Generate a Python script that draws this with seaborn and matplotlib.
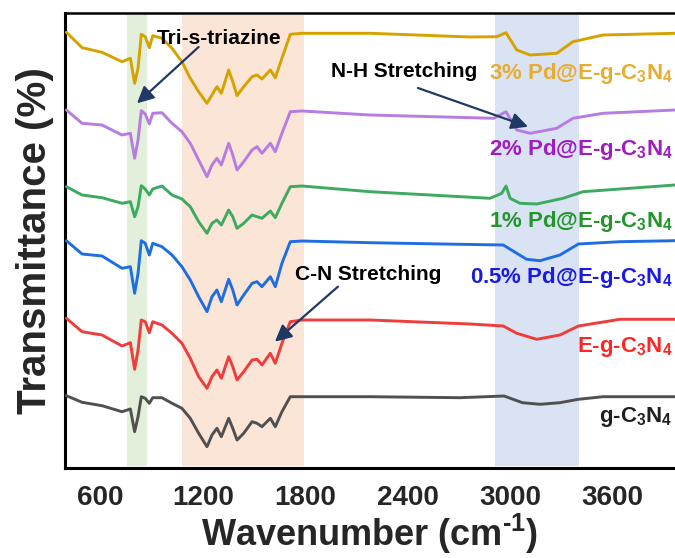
import matplotlib
matplotlib.use("Agg")
import matplotlib.pyplot as plt
import seaborn as sns
import pandas as pd

# ---------------- data ----------------
wn_left = [400, 492, 609, 726, 775, 800, 820, 839, 862, 886, 906, 960, 1019, 1077,
           1126, 1175, 1224, 1253, 1282, 1308, 1351, 1375, 1400, 1439, 1488, 1517,
           1546, 1595, 1624, 1663, 1712, 1781]

pd3_left = [437.7, 422.3, 417.7, 408.3, 411.7, 386.7, 401.7, 435.7, 433.3, 422.3, 434.3,
            431.7, 421.7, 408.3, 391.7, 378.3, 366.7, 375, 383.3, 376.7, 400, 388.3,
            374.3, 383.3, 393.3, 395, 391, 400, 392.3, 411.7, 435.7, 436.7]
pd3_wn_right = [2179, 2765, 2921, 2976, 3039, 3117, 3273, 3368, 3544, 3966]
pd3_right = [436.7, 433, 433.3, 437.3, 420, 415, 416.7, 428.3, 435, 436.7]

pd2_left = [360, 346.7, 345, 335, 336.7, 311.7, 330, 359.3, 356, 346, 356.7, 357.3,
            346.7, 338.3, 326.7, 310, 293.3, 305, 311.7, 305, 326.7, 315, 300, 308.3,
            320, 323.3, 316.7, 326.7, 318.3, 336.7, 358.3, 359]
pd2_wn_right = [2179, 2904, 2976, 3039, 3117, 3273, 3368, 3544, 3966]
pd2_right = [355, 351.7, 358.3, 340, 336.7, 341.7, 351.7, 356.7, 360]

pd1_left = [283.3, 275, 272.3, 266.7, 268.3, 253.3, 263.3, 284.3, 281, 275, 281, 284,
            275, 271, 263.3, 248.3, 236.7, 246.7, 250, 245, 260, 253.3, 241.7, 246.7,
            255, 253.3, 251.7, 259, 252.3, 266.7, 283.3, 284]
pd1_wn_right = [2179, 2882, 2951, 2976, 3000, 3058, 3156, 3310, 3427, 3966]
pd1_right = [278.3, 271.7, 276.7, 284, 271.7, 266.7, 266, 271.7, 278.3, 285]

pd05_left = [229.3, 216, 214, 201.7, 203.3, 176.7, 196.7, 229.3, 226.7, 215, 226.7,
             223.3, 215, 203.3, 190, 173.3, 158.3, 173.3, 180, 168.3, 190.7, 180, 165,
             175, 186.7, 188.3, 183.3, 193.3, 183.3, 206.7, 228.3, 229]
pd05_wn_right = [2179, 2706, 2960, 3039, 3097, 3175, 3292, 3400, 3644, 3966]
pd05_right = [227.3, 225.7, 225, 216.7, 210.7, 209.3, 215, 226, 228.3, 229.3]

eg_left = [151.7, 138.3, 135, 124, 127.3, 100.7, 120, 150, 148.3, 137.3, 148.3, 145,
           136.7, 126.7, 111.7, 93.3, 81.7, 93.3, 100, 91.7, 113.3, 103.3, 90, 98.3,
           110, 110.7, 105, 116.7, 106.7, 126.7, 148.3, 150]
eg_wn_right = [2179, 2765, 2960, 3039, 3156, 3292, 3400, 3644, 3966]
eg_right = [150, 146, 144, 136.7, 130.7, 135, 144, 150.7, 150.7]

g_left = [74.3, 67.7, 64.3, 58.3, 61, 38.3, 53.3, 73.3, 71.7, 66.7, 72.3, 72.3, 66.7,
          61.7, 51.7, 36.7, 23.3, 35, 41.7, 33.3, 51.7, 41.7, 30, 36.7, 48.3, 46.7,
          43.3, 51.7, 43.3, 58.3, 73.3, 73.3]
g_wn_right = [2179, 2706, 2965, 3072, 3175, 3292, 3400, 3544, 3966]
g_right = [73.3, 72.3, 74, 67.3, 65.7, 67.3, 70.7, 73.3, 73.3]

series_names = ["3% Pd@E-g-C$_3$N$_4$", "2% Pd@E-g-C$_3$N$_4$", "1% Pd@E-g-C$_3$N$_4$",
                "0.5% Pd@E-g-C$_3$N$_4$", "E-g-C$_3$N$_4$", "g-C$_3$N$_4$"]
label_y = [391, 315, 243.3, 186.7, 118.3, 48.3]

x_ticks = [600, 1200, 1800, 2400, 3000, 3600]
minor_ticks = [900, 1500, 2100, 2700, 3300, 3900]

bands = [(757, 874), (1080, 1790), (2910, 3405)]

# ---------------- styling ----------------
line_colors = ["#d6a200", "#b77ce2", "#3caa5f", "#1e6ee1", "#f03c3c", "#505050"]
text_colors = ["#e6ad30", "#a01cc0", "#22962a", "#1a1ae6", "#ff2525", "#202020"]
band_colors = ["#e2efda", "#fbe5d6", "#dae3f3"]
arrow_color = "#1f3864"

sns.set_style("white")
plt.rcParams["font.family"] = ["Liberation Sans", "DejaVu Sans"]
plt.rcParams["font.weight"] = "bold"
plt.rcParams["mathtext.fontset"] = "custom"
plt.rcParams["mathtext.rm"] = "Liberation Sans:bold"
plt.rcParams["mathtext.it"] = "Liberation Sans:bold"
plt.rcParams["mathtext.bf"] = "Liberation Sans:bold"
plt.rcParams["mathtext.default"] = "rm"

fig = plt.figure(figsize=(6.75, 5.58), dpi=100)
ax = fig.add_axes([65 / 675, 90 / 558, 1 - 65 / 675, 455 / 558])

for (lo, hi), c in zip(bands, band_colors):
    ax.axvspan(lo, hi, ymin=0.005, ymax=0.995, color=c, lw=0, zorder=0)

curves = [
    (wn_left + pd3_wn_right, pd3_left + pd3_right),
    (wn_left + pd2_wn_right, pd2_left + pd2_right),
    (wn_left + pd1_wn_right, pd1_left + pd1_right),
    (wn_left + pd05_wn_right, pd05_left + pd05_right),
    (wn_left + eg_wn_right, eg_left + eg_right),
    (wn_left + g_wn_right, g_left + g_right),
]
for (xs, ys), name, col in zip(curves, series_names, line_colors):
    df = pd.DataFrame({"wn": xs, "T": ys})
    sns.lineplot(data=df, x="wn", y="T", color=col, lw=2.1, ax=ax, zorder=3,
                 sort=False, estimator=None)

for name, yv, col in zip(series_names, label_y, text_colors):
    ax.text(0.996, yv, name, transform=ax.get_yaxis_transform(), ha="right",
            va="baseline", fontsize=16, fontweight="bold", color=col, zorder=5)

# annotations
arrow_kw = dict(arrowstyle="-|>", color=arrow_color, lw=1.6, mutation_scale=25,
                shrinkA=0, shrinkB=0)
ax.text(931, 425.5, "Tri-s-triazine", fontsize=15, fontweight="bold", color="black",
        ha="left", va="baseline", zorder=6)
ax.annotate("", xy=(814, 366.7), xytext=(1175, 423), arrowprops=arrow_kw, zorder=6)
ax.text(1950, 393.3, "N-H Stretching", fontsize=15, fontweight="bold", color="black",
        ha="left", va="baseline", zorder=6)
ax.annotate("", xy=(3105, 343.3), xytext=(2460, 382), arrowprops=arrow_kw, zorder=6)
ax.text(1740, 190, "C-N Stretching", fontsize=15, fontweight="bold", color="black",
        ha="left", va="baseline", zorder=6)
ax.annotate("", xy=(1622, 128.3), xytext=(1991, 183.3), arrowprops=arrow_kw, zorder=6)

ax.set_xlim(392, 3966)
ax.set_ylim(2, 457)
ax.set_xticks(x_ticks)
ax.set_xticks(minor_ticks, minor=True)
ax.set_xticklabels([str(t) for t in x_ticks], fontsize=20, fontweight="bold")
ax.set_yticks([])
ax.tick_params(axis="x", which="major", direction="out", length=8, width=2, pad=4)
ax.tick_params(axis="x", which="minor", direction="out", length=5, width=2)
ax.set_xlabel("Wavenumber (cm$^{\\text{-}1}$)", fontsize=26, fontweight="bold", labelpad=1)
ax.set_ylabel("Transmittance (%)", fontsize=29, fontweight="bold", labelpad=8)

for side in ["left", "bottom"]:
    ax.spines[side].set_linewidth(2.2)
    ax.spines[side].set_color("black")
ax.spines["top"].set_linewidth(1.8)
ax.spines["top"].set_color("black")
ax.spines["right"].set_visible(False)

fig.savefig("out.png", dpi=100)
